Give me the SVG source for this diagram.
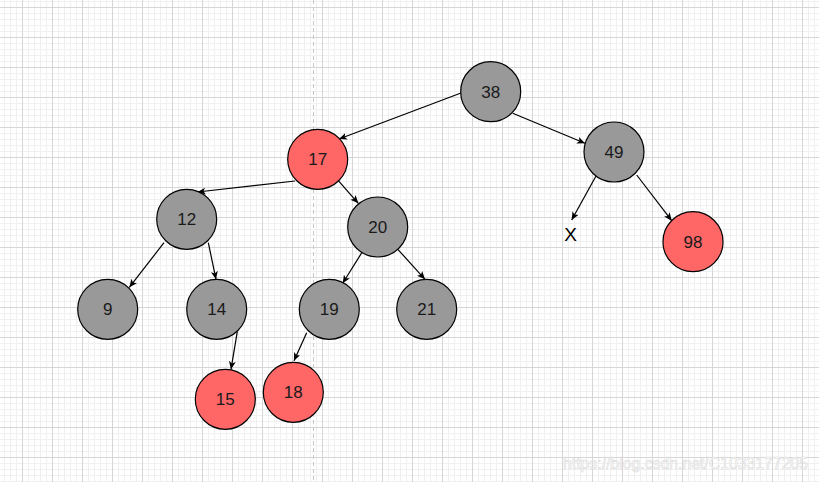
<svg xmlns="http://www.w3.org/2000/svg" width="819" height="482" viewBox="0 0 819 482">
<style>
.n circle{stroke:#000;stroke-width:1.2}
.g{fill:#999999}
.r{fill:#FF6666}
.n text{font-family:"Liberation Sans",Arial,sans-serif;font-size:17px;fill:#1a1a1a;text-anchor:middle}
#edges line{stroke:#000;stroke-width:1.2;marker-end:url(#arr)}
</style>
<defs>
<pattern id="minor" patternUnits="userSpaceOnUse" x="22" y="7" width="6" height="6">
<path d="M0.5,0V6M0,0.5H6" stroke="#f0f0f0" stroke-width="1" fill="none"/>
</pattern>
<pattern id="major" patternUnits="userSpaceOnUse" x="22" y="7" width="30" height="30">
<path d="M0.5,0V30M0,0.5H30" stroke="#d6d6d6" stroke-width="1" fill="none"/>
</pattern>
<marker id="arr" markerUnits="userSpaceOnUse" markerWidth="10" markerHeight="8" refX="8" refY="3.5" orient="auto">
<path d="M0,0 L8,3.5 L0,7 L2,3.5 z" fill="#000"/>
</marker>
</defs>
<rect width="819" height="482" fill="#fff"/>
<rect width="819" height="482" fill="url(#minor)"/>
<rect width="819" height="482" fill="url(#major)"/>
<line x1="313.5" y1="0" x2="313.5" y2="482" stroke="#c8c8c8" stroke-width="1" stroke-dasharray="4 3"/>
<g id="edges">
<line x1="461" y1="93" x2="339" y2="139"/>
<line x1="512.7" y1="113.3" x2="585" y2="143.3"/>
<line x1="295" y1="181" x2="197.5" y2="192"/>
<line x1="338.3" y1="180.7" x2="358.3" y2="203.3"/>
<line x1="164" y1="242.7" x2="129.3" y2="287.3"/>
<line x1="208.3" y1="242.7" x2="216" y2="279.3"/>
<line x1="237.3" y1="331.7" x2="231" y2="369.3"/>
<line x1="361.9" y1="252.5" x2="342.7" y2="283.3"/>
<line x1="397.8" y1="249.3" x2="425" y2="279.3"/>
<line x1="306.7" y1="332.7" x2="294" y2="360.7"/>
<line x1="596" y1="176" x2="571.7" y2="220"/>
<line x1="636.7" y1="175" x2="671.7" y2="220.7"/>
</g>
<g id="n38" class="n"><circle class="g" cx="490.7" cy="91.7" r="30"/><text x="490.7" y="97.8">38</text></g>
<g id="n17" class="n"><circle class="r" cx="317.7" cy="159.3" r="30"/><text x="317.7" y="165.4">17</text></g>
<g id="n49" class="n"><circle class="g" cx="614" cy="152" r="30"/><text x="614" y="158.1">49</text></g>
<g id="n12" class="n"><circle class="g" cx="186.7" cy="219.3" r="30"/><text x="186.7" y="225.4">12</text></g>
<g id="n20" class="n"><circle class="g" cx="377.7" cy="227" r="30"/><text x="377.7" y="233.1">20</text></g>
<g id="n98" class="n"><circle class="r" cx="693" cy="241.7" r="30"/><text x="693" y="247.8">98</text></g>
<g id="n9" class="n"><circle class="g" cx="107.7" cy="309.3" r="30"/><text x="107.7" y="315.4">9</text></g>
<g id="n14" class="n"><circle class="g" cx="216.7" cy="309.3" r="30"/><text x="216.7" y="315.4">14</text></g>
<g id="n19" class="n"><circle class="g" cx="329.3" cy="309.3" r="30"/><text x="329.3" y="315.4">19</text></g>
<g id="n21" class="n"><circle class="g" cx="426.7" cy="309.3" r="30"/><text x="426.7" y="315.4">21</text></g>
<g id="n15" class="n"><circle class="r" cx="225.3" cy="399.3" r="30"/><text x="225.3" y="405.4">15</text></g>
<g id="n18" class="n"><circle class="r" cx="293.3" cy="392.3" r="30"/><text x="293.3" y="398.4">18</text></g>
<g id="nX"><text x="570.7" y="240.7" font-family="Liberation Sans,Arial,sans-serif" font-size="19" fill="#000" text-anchor="middle">X</text></g>
<text x="563" y="468.5" font-family="Liberation Sans,Arial,sans-serif" font-size="16" fill="#ffffff" stroke="#d8d8d8" stroke-width="0.6" textLength="245" lengthAdjust="spacingAndGlyphs" opacity="0.9">https://blog.csdn.net/C1033177205</text>
</svg>
